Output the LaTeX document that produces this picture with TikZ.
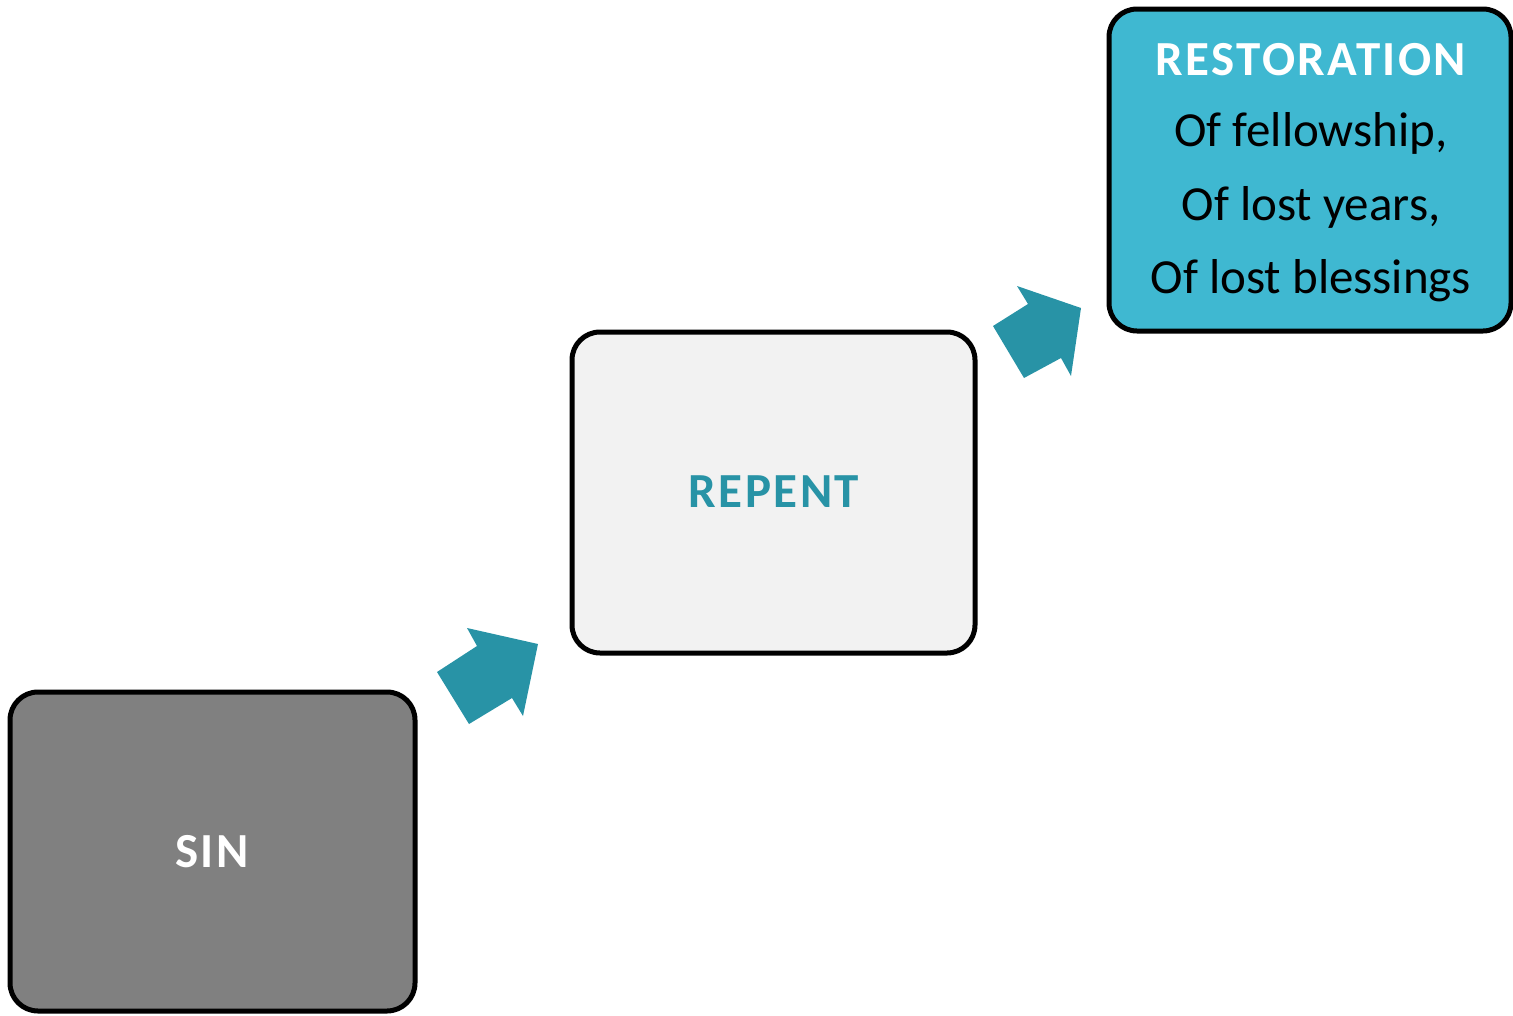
\documentclass[tikz,border=0pt]{standalone}
\usepackage{fontspec}
\setmainfont{Carlito}
\newfontfamily\widebold[LetterSpace=5,BoldFont={Carlito Bold}]{Carlito}
\definecolor{singray}{HTML}{808080}
\definecolor{replight}{HTML}{F2F2F2}
\definecolor{restcyan}{HTML}{3FB8D1}
\definecolor{arrteal}{HTML}{2893A6}
\begin{document}
\begin{tikzpicture}[x=1pt,y=-1pt,
  stagebox/.style={draw=black, line width=5pt, rounded corners=28pt, inner sep=0pt, outer sep=0pt},
  lbl/.style={font=\fontsize{49}{52}\selectfont, anchor=base, inner sep=0pt},
  ttl/.style={font=\fontsize{49}{52}\widebold\bfseries, anchor=base, inner sep=0pt},
  blockarrow/.style={fill=arrteal, draw=none}]
\useasboundingbox (0,0) rectangle (1513,1015);
\node[stagebox, fill=singray, minimum width=405pt, minimum height=319pt] (sin) at (212.5,851.5) {};
\node[stagebox, fill=replight, minimum width=403pt, minimum height=321pt] (repent) at (773.5,492.5) {};
\node[stagebox, fill=restcyan, minimum width=402pt, minimum height=322pt] (rest) at (1310,170) {};
\node[ttl, text=white] (sint) at (212,867) {SIN};
\node[ttl, text=arrteal] (rept) at (774,507) {REPENT};
\node[ttl, text=white] (restt) at (1311,75) {RESTORATION};
\node[lbl] (l1) at (1311,146) {Of fellowship,};
\node[lbl] (l2) at (1311,220) {Of lost years,};
\node[lbl] (l3) at (1311,293) {Of lost blessings};
\fill[blockarrow] (538,644) -- (467,628) -- (477,646) -- (437,672) -- (469,724) -- (512,698) -- (523,716) -- cycle;
\fill[blockarrow] (1081,308) -- (1017,286) -- (1028,304) -- (993,326) -- (1024,378) -- (1061,358) -- (1071,376) -- cycle;
\end{tikzpicture}
\end{document}
